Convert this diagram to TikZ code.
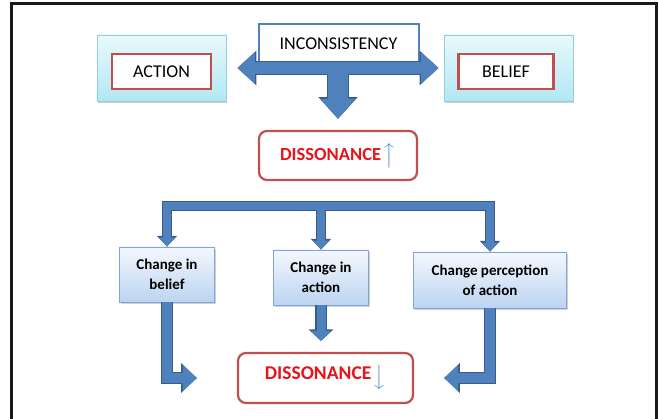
\documentclass[tikz,border=0pt]{standalone}
\usepackage{amsmath}
\usepackage{fontspec}
\setmainfont{Carlito}
\usetikzlibrary{arrows.meta,shadows}

\definecolor{flowfill}{HTML}{4F81BD}
\definecolor{flowedge}{HTML}{385D8A}
\definecolor{tagred}{HTML}{C0504D}
\definecolor{alarm}{HTML}{E8141B}
\definecolor{sideedge}{HTML}{8ED0E2}
\definecolor{sidetop}{HTML}{E8F9FC}
\definecolor{sidebot}{HTML}{B2E8F3}
\definecolor{stepedge}{HTML}{7EA6D8}
\definecolor{steptop}{HTML}{F4F8FD}
\definecolor{stepbot}{HTML}{BCD4F1}
\definecolor{trend}{HTML}{5B8FCF}

\newcommand{\trendmark}[1]{\kern1pt\textcolor{trend}{\fontsize{22}{26}\selectfont$\big#1$}}

\tikzset{
  softshadow/.style={drop shadow={shadow xshift=1pt,shadow yshift=-2.5pt,fill=black!40,opacity=.45}},
  sidebox/.style={draw=sideedge, line width=.8pt, top color=sidetop, bottom color=sidebot,
    minimum width=129pt, minimum height=66pt, inner sep=0pt, softshadow},
  tagbox/.style={draw=tagred, line width=2.4pt, fill=white, minimum height=35pt, inner sep=0pt,
    font=\fontsize{18}{22}\selectfont},
  dissbox/.style={draw=tagred, line width=2.2pt, fill=white, rounded corners=8pt, inner sep=0pt,
    text=alarm, font=\fontsize{18.5}{22}\selectfont\bfseries},
  stepbox/.style={draw=stepedge, line width=.8pt, top color=steptop, bottom color=stepbot,
    align=center, inner sep=0pt, minimum height=55pt, font=\fontsize{15}{20}\selectfont\bfseries, softshadow},
  flow/.style n args={3}{line width=#1+\g pt, line join=miter,
    -{Triangle[width=#2 1.5,length=#3 .7]}},
  twoway/.style n args={3}{line width=#1+\g pt,
    {Triangle[width=#2 1.5,length=#3 .7]}-{Triangle[width=#2 1.5,length=#3 .7]}},
}

\begin{document}
\begin{tikzpicture}[x=1pt,y=-1pt]
  \useasboundingbox (0,0) rectangle (659,419);
  \draw[line width=3pt, black!90] (11,4) rectangle (656,440);

  \node[sidebox] (act) at (161.5,68) {};
  \node[tagbox, minimum width=99pt] (acttag) at (161.5,71.5) {ACTION};
  \node[sidebox] (bel) at (508.5,68) {};
  \node[tagbox, minimum width=95pt] (beltag) at (506,71.5) {BELIEF};
  \node[draw=flowfill, line width=2pt, fill=white, minimum width=160pt, minimum height=40pt,
    inner sep=0pt, font=\fontsize{18}{22}\selectfont] (inc) at (338.5,44) {INCONSISTENCY};
  \coordinate (hub) at (338,68);

  \node[dissbox, minimum width=158pt, minimum height=49pt] (diss1) at (338,155.5)
    {DISSONANCE\trendmark{\uparrow}};

  \node[stepbox, minimum width=95pt] (ch1) at (167,274.5) {Change in\\belief};
  \node[stepbox, minimum width=95pt] (ch2) at (321,277.5) {Change in\\action};
  \node[stepbox, minimum width=153pt, minimum height=56pt] (ch3) at (490,280) {Change perception\\of action};
  \coordinate (fork) at (ch2.north |- 0,206);

  \node[dissbox, minimum width=175pt, minimum height=50pt, font=\fontsize{19.5}{22}\selectfont\bfseries]
    (diss2) at (325.5,378) {DISSONANCE\raisebox{-4pt}{\trendmark{\downarrow}}};

  \foreach \tone/\g in {flowedge/2.4,flowfill/0} {
    \draw[\tone, twoway={12pt}{12pt}{9pt}, shorten <=11pt, shorten >=5pt] (act) -- (bel);
    \draw[\tone, flow={20pt}{4pt}{6pt}, shorten >=11pt] (hub) -- (diss1.north);
    \draw[\tone, flow={8pt}{4pt}{3.4pt}] (fork) -| (ch1.north);
    \draw[\tone, flow={8pt}{4pt}{3.4pt}] (fork) -| (ch3.north);
    \draw[\tone, flow={8pt}{4pt}{3.4pt}] (fork) -- (ch2.north);
    \draw[\tone, flow={10pt}{10pt}{7pt}, shorten >=40pt] (ch1.south) |- (diss2.west);
    \draw[\tone, flow={10pt}{10pt}{7pt}, shorten >=30pt] (ch3.south) |- (diss2.east);
    \draw[\tone, flow={9pt}{7pt}{3.5pt}, shorten >=11pt] (ch2.south) -- (ch2.south |- diss2.north);
  }
\end{tikzpicture}
\end{document}
